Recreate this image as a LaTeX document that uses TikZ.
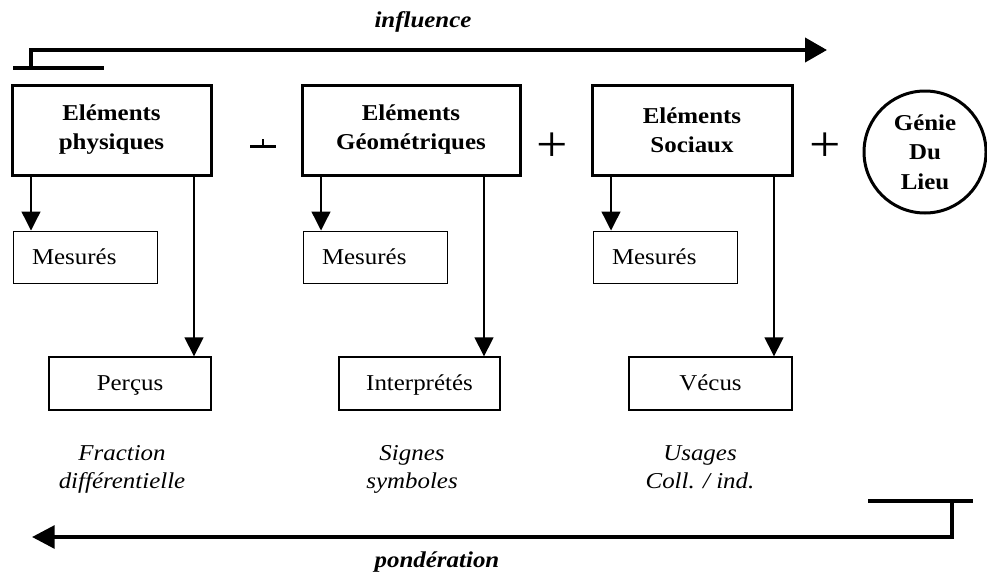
\documentclass[tikz,border=0pt]{standalone}
\usepackage{fontspec}
\setmainfont{Liberation Serif}[FakeStretch=1.1]
\usetikzlibrary{arrows.meta}
\begin{document}
\begin{tikzpicture}[x=0.75pt,y=-0.75pt,
  txt/.style={font=\fontsize{17}{21.75}\selectfont},
  mainbox/.style={draw,line width=2.25pt,minimum height=67.5pt,inner sep=0pt,align=center,font=\bfseries\fontsize{17}{21.75}\selectfont},
  mesbox/.style={draw,line width=0.75pt,text width=79.5pt,inner xsep=14.25pt,inner ysep=0pt,minimum height=39pt,align=left,txt},
  resbox/.style={draw,line width=1pt,minimum height=39.75pt,inner sep=0pt,text height=13.25pt,text depth=3.5pt,txt},
  conn/.style={line width=1pt,-{Triangle[length=14.25pt,width=14.25pt]}},
  flow/.style={line width=3pt,line join=miter},
  lab/.style={inner sep=0pt,align=center,font=\itshape\fontsize{17}{21}\selectfont},
  blab/.style={inner sep=0pt,font=\bfseries\itshape\fontsize{17}{21}\selectfont},
  plus/.style={inner sep=0pt,font=\fontsize{38}{38}\selectfont}]
\useasboundingbox (0,0) rectangle (987,575);

% main boxes
\node[mainbox,minimum width=149.25pt] (b1) at (111.5,130) {Eléments\\physiques};
\node[mainbox,minimum width=163.5pt] (b2) at (411,130) {Eléments\\Géométriques};
\node[mainbox,minimum width=150pt] (b3) at (692,130) {Eléments\\Sociaux};
\node[draw,circle,line width=2.25pt,minimum size=91.5pt,inner sep=0pt,align=center,font=\bfseries\fontsize{17}{22}\selectfont] (g) at (925,152) {Génie\\Du\\Lieu};

% plus signs
\draw[line width=2.25pt] (250,146) coordinate (p1a) -- (276,146) coordinate (p1b);
\draw[line width=1.5pt] (263,139) coordinate (p1c) -- (263,146);
\node[plus] (p2) at (552,147) {+};
\node[plus] (p3) at (825,147) {+};

% sub boxes
\node[mesbox] (m1) at (85,257) {Mesurés};
\node[mesbox] (m2) at (375,257) {Mesurés};
\node[mesbox] (m3) at (665,257) {Mesurés};
\node[resbox,minimum width=121.5pt] (r1) at (130,383.5) {Perçus};
\node[resbox,minimum width=120.75pt] (r2) at (419.5,383.5) {Interprétés};
\node[resbox,minimum width=122.25pt] (r3) at (710.5,383.5) {Vécus};

% connectors
\coordinate (x1) at (31,0);  \coordinate (y1) at (194,0);
\coordinate (x2) at (321,0); \coordinate (y2) at (484,0);
\coordinate (x3) at (611,0); \coordinate (y3) at (774,0);
\draw[conn] (x1 |- b1.south) -- (x1 |- m1.north);
\draw[conn] (y1 |- b1.south) -- (y1 |- r1.north);
\draw[conn] (x2 |- b2.south) -- (x2 |- m2.north);
\draw[conn] (y2 |- b2.south) -- (y2 |- r2.north);
\draw[conn] (x3 |- b3.south) -- (x3 |- m3.north);
\draw[conn] (y3 |- b3.south) -- (y3 |- r3.north);

% italic labels
\node[lab,anchor=base] (l1) at (122,488) {Fraction\\différentielle};
\node[lab,anchor=base] (l2) at (412,488) {Signes\\symboles};
\node[lab,anchor=base] (l3) at (700,488) {Usages\\Coll. / ind.};

% influence arrow
\coordinate (ia) at (13,68); \coordinate (ib) at (104,68);
\coordinate (ic) at (31,68); \coordinate (id) at (31,50); \coordinate (ie) at (827,50);
\draw[flow] (ia) -- (ib);
\draw[flow,-{Triangle[length=16.5pt,width=18pt]}] (ic) -- (id) -- (ie);
\node[blab,anchor=base] (infl) at (423,27) {influence};

% ponderation arrow
\coordinate (pa) at (868,501); \coordinate (pb) at (973,501);
\coordinate (pc) at (952,501); \coordinate (pd) at (952,537); \coordinate (pe) at (32,537);
\draw[flow] (pa) -- (pb);
\draw[flow,-{Triangle[length=17pt,width=17pt]}] (pc) -- (pd) -- (pe);
\node[blab,anchor=base] (pond) at (437,567) {pondération};
\end{tikzpicture}
\end{document}
